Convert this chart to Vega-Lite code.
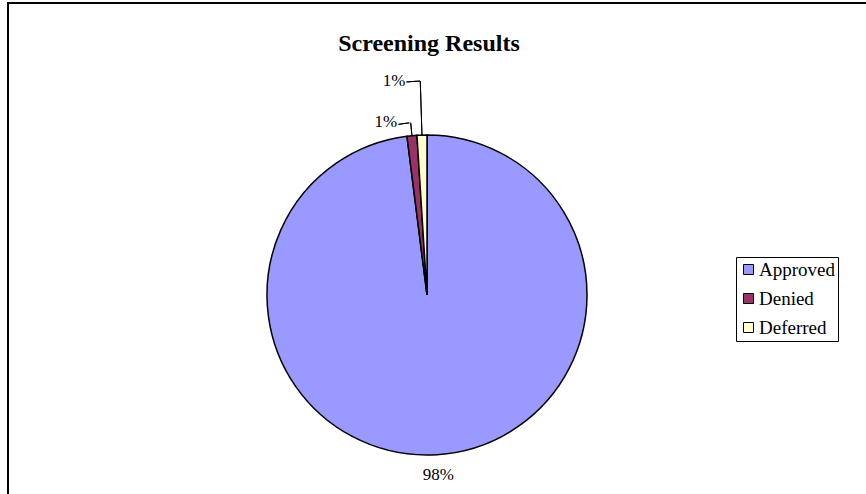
{
  "$schema": "https://vega.github.io/schema/vega-lite/v6.json",
  "autosize": "none",
  "width": 862,
  "height": 584,
  "padding": {"left": 8, "top": 3, "right": 0, "bottom": 0},
  "background": "white",
  "config": {
    "view": {"stroke": "black", "strokeWidth": 2},
    "font": "Liberation Serif"
  },
  "title": {
    "text": "Screening Results",
    "font": "Liberation Serif",
    "fontSize": 24,
    "fontWeight": "bold",
    "color": "black",
    "anchor": "middle",
    "frame": "group",
    "baseline": "alphabetic",
    "offset": -73,
    "dx": -10
  },
  "data": {
    "values": [
      {"result": "Approved", "share": 0.98, "idx": 1},
      {"result": "Denied", "share": 0.01, "idx": 2},
      {"result": "Deferred", "share": 0.01, "idx": 3}
    ]
  },
  "layer": [
    {
      "mark": {"type": "rect", "fill": null, "fillOpacity": 0, "stroke": "black", "strokeWidth": 2},
      "encoding": {}
    },
    {
      "mark": {"type": "arc", "outerRadius": 160, "stroke": "black", "strokeWidth": 1.5, "xOffset": -12},
      "encoding": {
        "theta": {"field": "share", "type": "quantitative", "stack": true},
        "order": {"field": "idx", "type": "ordinal"},
        "color": {
          "field": "result",
          "type": "nominal",
          "sort": ["Approved", "Denied", "Deferred"],
          "scale": {"domain": ["Approved", "Denied", "Deferred"], "range": ["#9999FF", "#993366", "#FFFFCC"]},
          "legend": {
            "title": null,
            "orient": "none",
            "legendX": 728,
            "legendY": 254,
            "symbolType": "square",
            "symbolSize": 100,
            "symbolStrokeColor": "black",
            "symbolStrokeWidth": 1,
            "labelFont": "Liberation Serif",
            "labelFontSize": 19,
            "labelColor": "black",
            "labelOffset": 1,
            "rowPadding": 9,
            "padding": 3,
            "strokeColor": "black",
            "fillColor": "white",
            "labelLimit": 200
          }
        }
      }
    },
    {
      "mark": {"type": "text", "radius": 180, "xOffset": -12, "fontSize": 17, "font": "Liberation Serif", "color": "black", "align": "center", "baseline": "middle"},
      "encoding": {
        "theta": {"field": "share", "type": "quantitative", "stack": true},
        "order": {"field": "idx", "type": "ordinal"},
        "text": {"condition": {"test": "datum.result === 'Approved'", "field": "share", "format": ".0%"}, "value": ""}
      }
    },
    {
      "mark": {"type": "text", "radius": 160, "xOffset": -12, "dx": -26, "dy": -14, "fontSize": 17, "font": "Liberation Serif", "color": "black", "align": "center", "baseline": "middle"},
      "encoding": {
        "theta": {"field": "share", "type": "quantitative", "stack": true},
        "order": {"field": "idx", "type": "ordinal"},
        "text": {"condition": {"test": "datum.result === 'Denied'", "field": "share", "format": ".0%"}, "value": ""}
      }
    },
    {
      "mark": {"type": "text", "radius": 160, "xOffset": -12, "dx": -28, "dy": -54, "fontSize": 17, "font": "Liberation Serif", "color": "black", "align": "center", "baseline": "middle"},
      "encoding": {
        "theta": {"field": "share", "type": "quantitative", "stack": true},
        "order": {"field": "idx", "type": "ordinal"},
        "text": {"condition": {"test": "datum.result === 'Deferred'", "field": "share", "format": ".0%"}, "value": ""}
      }
    },
    {
      "mark": {"type": "arc", "outerRadius": 173, "innerRadius": 160, "padAngle": 0.3, "xOffset": -12, "fillOpacity": 0, "stroke": "black", "strokeWidth": 1},
      "encoding": {
        "theta": {"field": "share", "type": "quantitative", "stack": true},
        "order": {"field": "idx", "type": "ordinal"},
        "strokeOpacity": {"condition": {"test": "datum.result === 'Denied'", "value": 1}, "value": 0}
      }
    },
    {
      "mark": {"type": "arc", "outerRadius": 214, "innerRadius": 160, "padAngle": 0.3, "xOffset": -12, "fillOpacity": 0, "stroke": "black", "strokeWidth": 1},
      "encoding": {
        "theta": {"field": "share", "type": "quantitative", "stack": true},
        "order": {"field": "idx", "type": "ordinal"},
        "strokeOpacity": {"condition": {"test": "datum.result === 'Deferred'", "value": 1}, "value": 0}
      }
    },
    {
      "mark": {"type": "arc", "outerRadius": 173, "innerRadius": 173, "thetaOffset": -0.04, "xOffset": -12, "fillOpacity": 0, "stroke": "black", "strokeWidth": 1},
      "encoding": {
        "theta": {"field": "share", "type": "quantitative", "stack": true},
        "order": {"field": "idx", "type": "ordinal"},
        "strokeOpacity": {"condition": {"test": "datum.result === 'Denied'", "value": 1}, "value": 0}
      }
    },
    {
      "mark": {"type": "arc", "outerRadius": 214, "innerRadius": 214, "thetaOffset": -0.033, "xOffset": -12, "fillOpacity": 0, "stroke": "black", "strokeWidth": 1},
      "encoding": {
        "theta": {"field": "share", "type": "quantitative", "stack": true},
        "order": {"field": "idx", "type": "ordinal"},
        "strokeOpacity": {"condition": {"test": "datum.result === 'Deferred'", "value": 1}, "value": 0}
      }
    }
  ]
}
